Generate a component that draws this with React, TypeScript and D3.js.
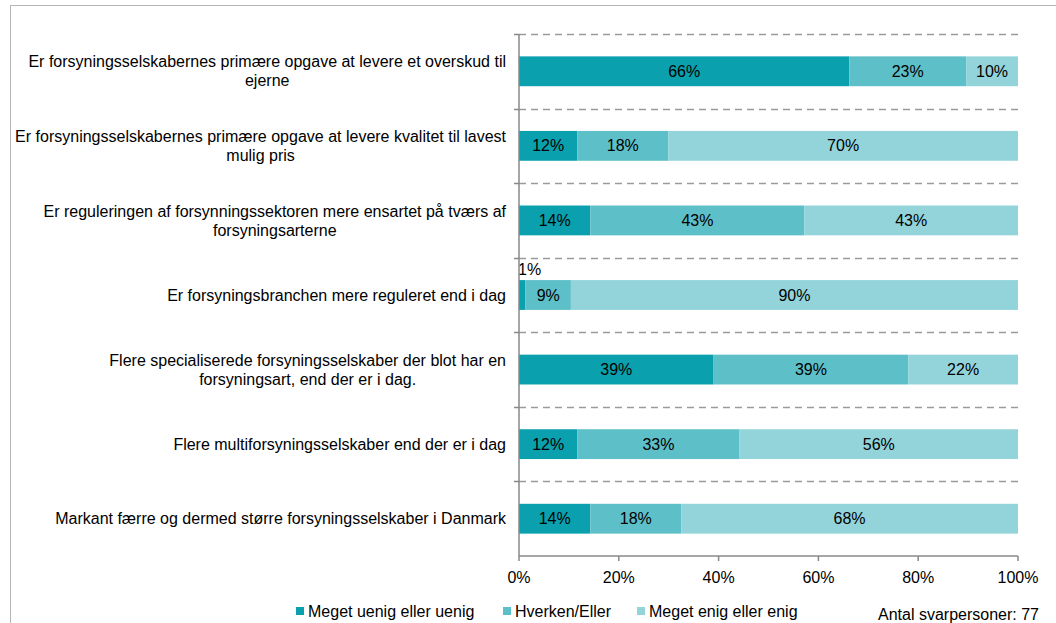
import React from "react";
import * as d3 from "d3";

const categories: string[][] = [
  ["Er forsyningsselskabernes primære opgave at levere et overskud til", "ejerne"],
  ["Er forsyningsselskabernes primære opgave at levere kvalitet til lavest", "mulig pris"],
  ["Er reguleringen af forsynningssektoren mere ensartet på tværs af", "forsyningsarterne"],
  ["Er forsyningsbranchen mere reguleret end i dag"],
  ["Flere specialiserede forsyningsselskaber der blot har en", "forsyningsart, end der er i dag."],
  ["Flere multiforsyningsselskaber end der er i dag"],
  ["Markant færre og dermed større forsyningsselskaber i Danmark"],
];

const seriesNames = ["Meget uenig eller uenig", "Hverken/Eller", "Meget enig eller enig"];
const uenig = [66.2, 11.7, 14.3, 1.3, 39.0, 11.7, 14.3];
const hverken = [23.4, 18.2, 42.9, 9.1, 39.0, 32.5, 18.2];
const enig = [10.4, 70.1, 42.8, 89.6, 22.0, 55.8, 67.5];
const labelUenig = ["66%", "12%", "14%", "1%", "39%", "12%", "14%"];
const labelHverken = ["23%", "18%", "43%", "9%", "39%", "33%", "18%"];
const labelEnig = ["10%", "70%", "43%", "90%", "22%", "56%", "68%"];
const xTicks = [0, 20, 40, 60, 80, 100];
const footnote = "Antal svarpersoner: 77";

const colors = ["#0ba0ae", "#5dbfc8", "#93d4db"];
const FONT = "Liberation Sans, Arial, sans-serif";
const FS = 16;

function measure(text: string): number {
  const c = document.createElement("canvas");
  const ctx = c.getContext("2d")!;
  ctx.font = `${FS}px Liberation Sans`;
  return ctx.measureText(text).width;
}

export default function App() {
  const x = d3.scaleLinear().domain([0, 100]).range([519, 1018]);
  const idx = categories.map((_, i) => String(i));
  const y = d3.scaleBand().domain(idx).range([34, 556]).paddingInner(0.6).paddingOuter(0.3);
  const step = y.step();
  const labels = [labelUenig, labelHverken, labelEnig];
  const stackData = categories.map((_, i) => ({ a: uenig[i], b: hverken[i], c: enig[i] }));
  const stacked = d3.stack<any>().keys(["a", "b", "c"])(stackData);
  const labelRight = 506;
  const lineH = 19;

  return (
    <svg width={1056} height={623} style={{ display: "block", position: "absolute", left: 0, top: 0 }}>
      <rect x={0} y={0} width={1056} height={623} fill="#fff" />
      <line x1={10} y1={5.5} x2={1056} y2={5.5} stroke="#b5b5b5" strokeWidth={1} />
      <line x1={10.5} y1={5} x2={10.5} y2={623} stroke="#b5b5b5" strokeWidth={1} />

      {/* gridlines */}
      {d3.range(7).map((i) => {
        const yy = Math.round(34 + i * step) + 0.5;
        return (
          <g key={"g" + i}>
            <line x1={x(0)} x2={x(100)} y1={yy} y2={yy} stroke="#9a9a9a" strokeWidth={1.5} strokeDasharray="7,5" />
            <line x1={x(0) - 5} x2={x(0)} y1={yy} y2={yy} stroke="#888" strokeWidth={1.5} />
          </g>
        );
      })}

      {/* bars */}
      {stacked.map((s, si) =>
        s.map((d, i) => (
          <rect
            key={`b${si}-${i}`}
            x={x(d[0])}
            y={y(String(i))!}
            width={x(d[1]) - x(d[0])}
            height={y.bandwidth()}
            fill={colors[si]}
          />
        ))
      )}

      {/* value labels */}
      {stacked.map((s, si) =>
        s.map((d, i) => {
          const w = x(d[1]) - x(d[0]);
          const cy = y(String(i))! + y.bandwidth() / 2;
          if (w < 15) {
            return (
              <text key={`l${si}-${i}`} x={x(d[0]) - 1} y={y(String(i))! - 5} fontSize={FS} fontFamily={FONT} fill="#000">
                {labels[si][i]}
              </text>
            );
          }
          return (
            <text
              key={`l${si}-${i}`}
              x={(x(d[0]) + x(d[1])) / 2}
              y={cy}
              dy="0.35em"
              textAnchor="middle"
              fontSize={FS}
              fontFamily={FONT}
              fill="#000"
            >
              {labels[si][i]}
            </text>
          );
        })
      )}

      {/* y axis */}
      <line x1={x(0)} x2={x(0)} y1={34} y2={556} stroke="#888" strokeWidth={1.5} />
      {/* x axis */}
      <line x1={x(0)} x2={x(100)} y1={556} y2={556} stroke="#888" strokeWidth={1.5} />
      {xTicks.map((t) => (
        <g key={"t" + t}>
          <line x1={x(t)} x2={x(t)} y1={556} y2={561} stroke="#888" strokeWidth={1.5} />
          <text x={x(t)} y={583} textAnchor="middle" fontSize={FS} fontFamily={FONT} fill="#000">
            {t + "%"}
          </text>
        </g>
      ))}

      {/* category labels */}
      {categories.map((lines, i) => {
        const maxW = Math.max(...lines.map(measure));
        const cx = labelRight - maxW / 2;
        const cy = y(String(i))! + y.bandwidth() / 2;
        const startY = cy - ((lines.length - 1) * lineH) / 2;
        return (
          <text key={"c" + i} textAnchor="middle" fontSize={FS} fontFamily={FONT} fill="#000">
            {lines.map((ln, j) => (
              <tspan key={j} x={cx} y={startY + j * lineH} dy="0.35em">
                {ln}
              </tspan>
            ))}
          </text>
        );
      })}

      {/* legend */}
      {seriesNames.map((n, i) => {
        const lx = [296, 503, 637][i];
        return (
          <g key={"lg" + i}>
            <rect x={lx} y={607} width={8} height={8} fill={colors[i]} />
            <text x={lx + 12} y={611} dy="0.35em" fontSize={FS} fontFamily={FONT} fill="#000">
              {n}
            </text>
          </g>
        );
      })}
      <text x={878} y={614} dy="0.35em" fontSize={FS} fontFamily={FONT} fill="#000">
        {footnote}
      </text>
    </svg>
  );
}
